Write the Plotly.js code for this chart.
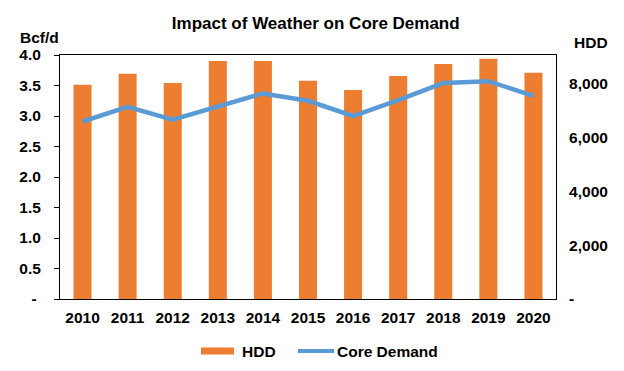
<!DOCTYPE html>
<html>
<head>
<meta charset="utf-8">
<script src="https://cdn.plot.ly/plotly-3.0.1.min.js"></script>
<style>html,body{margin:0;padding:0;background:#fff;}#chart{width:624px;height:371px;}</style>
</head>
<body>
<div id="chart"></div>
<script>
const years = ['2010','2011','2012','2013','2014','2015','2016','2017','2018','2019','2020'];
const hdd = [7960, 8370, 8030, 8850, 8850, 8110, 7770, 8290, 8740, 8930, 8410];
const coreDemand = [2.91, 3.15, 2.94, 3.15, 3.37, 3.25, 3.00, 3.26, 3.54, 3.57, 3.33];
const leftTicks = [0, 0.5, 1, 1.5, 2, 2.5, 3, 3.5, 4];
const leftTickText = ['-\u00a0', '0.5', '1.0', '1.5', '2.0', '2.5', '3.0', '3.5', '4.0'];
const rightTicks = [0, 2000, 4000, 6000, 8000];
const rightTickText = ['-', '2,000', '4,000', '6,000', '8,000'];
const seriesNames = ['HDD', 'Core Demand'];

const ORANGE = '#ED7D31';
const BLUE = '#5B9BD5';
const FONT = 'Liberation Sans, Arial, sans-serif';
const tf = {family: FONT, size: 15.5, color: '#000', weight: 'bold'};

const traces = [
  {type: 'bar', x: years, y: hdd, name: seriesNames[0], marker: {color: ORANGE}, yaxis: 'y', hoverinfo: 'skip'},
  {type: 'scatter', mode: 'lines', x: years, y: coreDemand, name: seriesNames[1], line: {color: BLUE, width: 4.5}, yaxis: 'y2', hoverinfo: 'skip'}
];

// plot area: x 60..556, y 55..299
const px = v => (v - 60) / 496;
const py = v => (299 - v) / 244;
const lf = {family: FONT, size: 15.5, color: '#000', weight: 'bold'};

const layout = {
  width: 624, height: 371,
  margin: {l: 60, r: 68, t: 55, b: 72, autoexpand: false},
  paper_bgcolor: '#fff', plot_bgcolor: '#fff',
  font: {family: FONT, color: '#000'},
  showlegend: false,
  title: {text: 'Impact of Weather on Core Demand', font: {family: FONT, size: 17, color: '#000', weight: 'bold'}, x: 0.506, xanchor: 'center', y: 1 - 23/371, yanchor: 'middle'},
  bargap: 0.6,
  xaxis: {type: 'category', showline: true, linecolor: '#000', linewidth: 1, mirror: true, ticks: '', tickfont: tf, showgrid: false, zeroline: false, automargin: false, ticklabelstandoff: 4},
  yaxis: {side: 'right', range: [0, 9070], tickvals: rightTicks, ticktext: rightTickText, ticks: '', tickfont: tf, showgrid: false, zeroline: false, showline: true, linecolor: '#000', linewidth: 1, ticklabelstandoff: 9, automargin: false},
  yaxis2: {overlaying: 'y', side: 'left', range: [0, 4], tickvals: leftTicks, ticktext: leftTickText, ticks: 'outside', ticklen: 5, tickcolor: '#000', tickfont: tf, showgrid: false, zeroline: false, showline: true, linecolor: '#000', linewidth: 1, automargin: false, ticklabelstandoff: 10},
  shapes: [
    {type: 'rect', xref: 'paper', yref: 'paper', x0: px(201), x1: px(234), y0: py(354.5), y1: py(347.5), fillcolor: ORANGE, line: {width: 0}},
    {type: 'line', xref: 'paper', yref: 'paper', x0: px(298), x1: px(334), y0: py(351), y1: py(351), line: {color: BLUE, width: 4}}
  ],
  annotations: [
    {text: 'Bcf/d', xref: 'paper', yref: 'paper', x: px(39), y: py(38), xanchor: 'center', yanchor: 'middle', showarrow: false, font: lf},
    {text: 'HDD', xref: 'paper', yref: 'paper', x: px(591), y: py(43), xanchor: 'center', yanchor: 'middle', showarrow: false, font: lf},
    {text: seriesNames[0], xref: 'paper', yref: 'paper', x: px(240), y: py(351), xanchor: 'left', yanchor: 'middle', showarrow: false, font: lf},
    {text: seriesNames[1], xref: 'paper', yref: 'paper', x: px(335), y: py(351), xanchor: 'left', yanchor: 'middle', showarrow: false, font: lf}
  ]
};

Plotly.newPlot('chart', traces, layout, {staticPlot: true, displayModeBar: false});
</script>
</body>
</html>
